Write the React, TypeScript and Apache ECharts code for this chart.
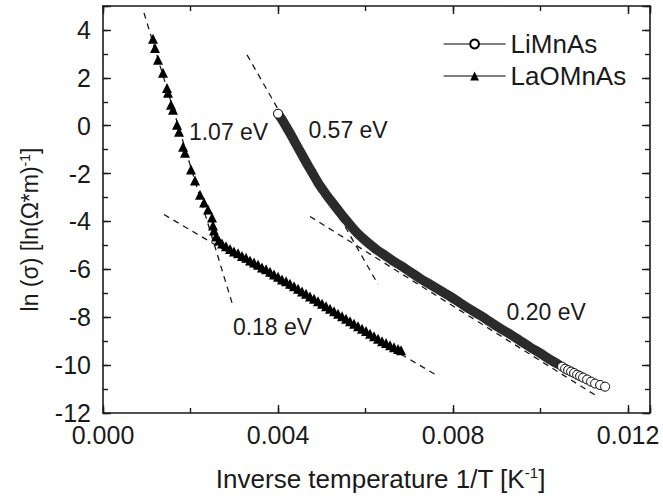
import { useEffect, useRef } from "react";
import * as echarts from "echarts";

// ---- data ----
const laX = [
  0.001143, 0.001189, 0.001257, 0.001371, 0.001463, 0.001486, 0.001554, 0.0016, 0.001691, 0.001737,
  0.001829, 0.001874, 0.002011, 0.002103, 0.002217, 0.002309, 0.0024, 0.002491, 0.002514, 0.002537,
  0.002583, 0.002651, 0.00272, 0.002811, 0.002903, 0.002994, 0.003086, 0.003177, 0.003269, 0.00336,
  0.003451, 0.003543, 0.003634, 0.003726, 0.003817, 0.003909, 0.004, 0.004091, 0.004183, 0.004274,
  0.004366, 0.004457, 0.004549, 0.00464, 0.004731, 0.004823, 0.004914, 0.005006, 0.005097, 0.005189,
  0.00528, 0.005371, 0.005463, 0.005554, 0.005646, 0.005737, 0.005829, 0.00592, 0.006011, 0.006103,
  0.006194, 0.006286, 0.006377, 0.006469, 0.00656, 0.006651, 0.006743, 0.006811,
];
const laY = [
  3.63, 3.25, 2.75, 2.21, 1.58, 1.38, 0.88, 0.67, 0.04, -0.25,
  -0.88, -1.13, -1.83, -2.29, -2.88, -3.21, -3.5, -3.83, -4.17, -4.38,
  -4.63, -4.79, -4.92, -5.04, -5.15, -5.25, -5.33, -5.44, -5.52, -5.63,
  -5.71, -5.81, -5.92, -6.0, -6.1, -6.21, -6.31, -6.42, -6.5, -6.6,
  -6.71, -6.81, -6.92, -7.02, -7.13, -7.23, -7.33, -7.44, -7.54, -7.65,
  -7.75, -7.85, -7.96, -8.06, -8.17, -8.27, -8.38, -8.48, -8.58, -8.69,
  -8.79, -8.9, -9.0, -9.08, -9.17, -9.25, -9.33, -9.38,
];

// dense LiMnAs data (overlapping circles form a dark band)
const liBandX = [
  0.004, 0.004114, 0.004229, 0.004343, 0.004457, 0.004571, 0.004686, 0.0048, 0.004914, 0.005029,
  0.005143, 0.005257, 0.005371, 0.005486, 0.0056, 0.005714, 0.005829, 0.005966, 0.006103, 0.006263,
  0.006446, 0.006629, 0.006811, 0.007017, 0.007246, 0.007474, 0.007703, 0.007931, 0.00816, 0.008389,
  0.008617, 0.008846, 0.009074, 0.009303, 0.009531, 0.00976, 0.009989, 0.010217, 0.0104,
];
const liBandY = [
  0.5, 0.19, -0.17, -0.54, -0.92, -1.29, -1.67, -2.02, -2.38, -2.69,
  -2.98, -3.25, -3.52, -3.79, -4.04, -4.29, -4.52, -4.75, -4.96, -5.19,
  -5.42, -5.65, -5.85, -6.1, -6.38, -6.63, -6.88, -7.13, -7.4, -7.67,
  -7.92, -8.19, -8.46, -8.71, -8.98, -9.25, -9.5, -9.77, -9.96,
];
// individually visible LiMnAs circles
const liX = [
  0.004, 0.010491, 0.01056, 0.010629, 0.010697, 0.010766, 0.010834, 0.010903, 0.010971, 0.011063,
  0.011154, 0.011246, 0.01136, 0.011474,
];
const liY = [
  0.5, -10.06, -10.15, -10.21, -10.27, -10.33, -10.4, -10.46, -10.52, -10.6,
  -10.69, -10.77, -10.83, -10.9,
];

// Arrhenius fit lines: [x1, y1, x2, y2]
const fitNames = ["1.07 eV", "0.18 eV", "0.57 eV", "0.20 eV"];
const fitX1 = [0.000937, 0.001394, 0.003291, 0.004731];
const fitY1 = [4.71, -3.71, 2.96, -3.79];
const fitX2 = [0.002971, 0.007657, 0.006286, 0.011246];
const fitY2 = [-7.54, -10.46, -6.63, -11.25];

// annotation labels (anchored in data coordinates)
const annoText = ["1.07 eV", "0.57 eV", "0.18 eV", "0.20 eV"];
const annoX = [0.002869, 0.0056, 0.003874, 0.010126];
const annoY = [-0.25, -0.19, -8.42, -7.79];

const xMin = 0;
const xMax = 0.0125;
const yMin = -12;
const yMax = 5;

const FONT = "'Liberation Sans', Arial, Helvetica, sans-serif";
const INK = "#1a1a1a";

export default function App() {
  const ref = useRef<HTMLDivElement>(null);

  useEffect(() => {
    if (!ref.current) return;
    const chart = echarts.init(ref.current, null, { renderer: "svg" });

    const axisLine = { show: true, onZero: false, lineStyle: { color: INK, width: 1.6 } };
    const xCommon = { type: "value" as const, min: xMin, max: xMax, splitLine: { show: false } };
    const yCommon = { type: "value" as const, min: yMin, max: yMax, splitLine: { show: false } };

    const majorTick = { show: true, inside: true, length: 8, lineStyle: { color: INK, width: 1.4 } };
    const minorTick = { show: true, inside: true, length: 5, lineStyle: { color: INK, width: 1.4 } };

    const zip = (xs: number[], ys: number[]) => xs.map((x, i) => [x, ys[i]]);

    const fitSeries = fitNames.map((n, i) => ({
      name: n,
      type: "line",
      data: [
        [fitX1[i], fitY1[i]],
        [fitX2[i], fitY2[i]],
      ],
      symbol: "none",
      silent: true,
      lineStyle: { color: INK, width: 1.3, type: [6, 5] },
      z: 1,
    }));

    chart.setOption({
      animation: false,
      textStyle: { fontFamily: FONT, color: INK },
      grid: { left: 103, top: 6, right: 13, bottom: 85, containLabel: false },
      xAxis: [
        {
          ...xCommon,
          position: "bottom",
          interval: 0.004,
          axisLine,
          axisTick: majorTick,
          axisLabel: {
            show: true,
            margin: 9,
            fontSize: 25,
            color: INK,
            fontFamily: FONT,
            formatter: (v: number) =>
              Math.abs(v / 0.004 - Math.round(v / 0.004)) < 1e-6 ? v.toFixed(3) : "",
          },
          name: "{a|Inverse temperature 1/T [K}{s|-1}{a|]}",
          nameLocation: "middle",
          nameGap: 52,
          nameTextStyle: {
            padding: [0, 0, 0, 8],
            rich: {
              a: { fontSize: 26, fontFamily: FONT, color: INK },
              s: { fontSize: 15, fontFamily: FONT, color: INK, verticalAlign: "top", padding: [0, 0, 12, 0] },
            },
          },
        },
        {
          ...xCommon,
          position: "bottom",
          interval: 0.002,
          axisLine: { show: false, onZero: false },
          axisTick: minorTick,
          axisLabel: { show: false },
        },
        {
          ...xCommon,
          position: "top",
          interval: 0.004,
          axisLine,
          axisTick: majorTick,
          axisLabel: { show: false },
        },
        {
          ...xCommon,
          position: "top",
          interval: 0.002,
          axisLine: { show: false, onZero: false },
          axisTick: minorTick,
          axisLabel: { show: false },
        },
      ],
      yAxis: [
        {
          ...yCommon,
          position: "left",
          interval: 2,
          axisLine,
          axisTick: majorTick,
          axisLabel: {
            show: true,
            margin: 12,
            fontSize: 25,
            color: INK,
            fontFamily: FONT,
            formatter: (v: number) => (v % 2 === 0 ? String(v) : ""),
          },
          name: "{a|ln (σ) [ln(Ω*m)}{s|-1}{a|]}",
          nameLocation: "middle",
          nameRotate: 90,
          nameGap: 61,
          nameTextStyle: {
            padding: [0, 40, 0, 0],
            rich: {
              a: { fontSize: 23, fontFamily: FONT, color: INK },
              s: { fontSize: 14, fontFamily: FONT, color: INK, verticalAlign: "top", padding: [0, 0, 10, 0] },
            },
          },
        },
        {
          ...yCommon,
          position: "left",
          interval: 1,
          axisLine: { show: false, onZero: false },
          axisTick: minorTick,
          axisLabel: { show: false },
        },
        {
          ...yCommon,
          position: "right",
          interval: 2,
          axisLine,
          axisTick: majorTick,
          axisLabel: { show: false },
        },
        {
          ...yCommon,
          position: "right",
          interval: 1,
          axisLine: { show: false, onZero: false },
          axisTick: minorTick,
          axisLabel: { show: false },
        },
      ],
      legend: {
        data: ["LiMnAs", "LaOMnAs"],
        orient: "vertical",
        left: 438,
        top: 26,
        itemWidth: 62,
        itemHeight: 11,
        itemGap: 6,
        textStyle: { fontSize: 26, fontFamily: FONT, color: INK, padding: [0, 0, 0, 0] },
        lineStyle: { color: "#000", width: 1.2, opacity: 1 },
        selectedMode: false,
      },
      series: [
        ...fitSeries,
        {
          name: "LiMnAs band",
          type: "line",
          data: zip(liBandX, liBandY),
          symbol: "none",
          silent: true,
          smooth: 0.3,
          lineStyle: { color: "#2b2b2b", width: 9.5, cap: "round", join: "round" },
          z: 2,
        },
        {
          name: "LiMnAs",
          type: "line",
          data: zip(liX, liY),
          symbol: "circle",
          symbolSize: 9,
          showAllSymbol: true,
          itemStyle: { color: "#fff", borderColor: "#000", borderWidth: 1 },
          lineStyle: { color: "#000", width: 1, opacity: 0 },
          z: 3,
        },
        {
          name: "LaOMnAs",
          type: "line",
          data: zip(laX, laY),
          symbol: "triangle",
          symbolSize: 10,
          showAllSymbol: true,
          itemStyle: { color: "#000" },
          lineStyle: { color: "#000", width: 1, opacity: 0 },
          z: 3,
        },
        {
          name: "annotations",
          type: "scatter",
          data: annoText.map((t, i) => ({ name: t, value: [annoX[i], annoY[i]] })),
          symbolSize: 0,
          silent: true,
          itemStyle: { opacity: 1 },
          label: {
            show: true,
            position: "inside",
            formatter: "{b}",
            fontSize: 23,
            fontFamily: FONT,
            color: INK,
            opacity: 1,
          },
          z: 4,
        },
      ],
    });

    return () => chart.dispose();
  }, []);

  return (
    <div
      ref={ref}
      style={{ position: "fixed", left: 0, top: 0, width: 663, height: 498, background: "#fff" }}
    />
  );
}
